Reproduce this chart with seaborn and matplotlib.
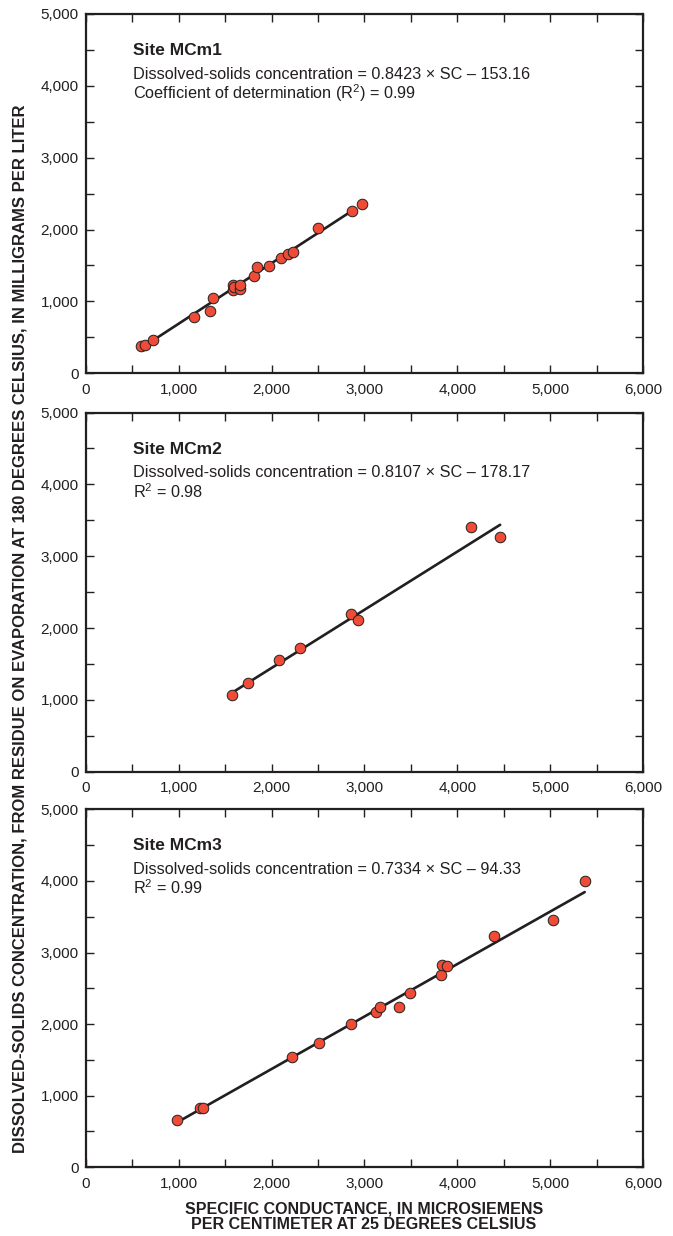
import matplotlib
matplotlib.use("Agg")
import matplotlib.pyplot as plt
import seaborn as sns
import pandas as pd
from matplotlib.ticker import MultipleLocator, FuncFormatter

# values
sites = ["MCm1", "MCm2", "MCm3"]

sc_mcm1 = [590, 640, 721, 1165, 1343, 1372, 1590, 1590, 1600, 1660, 1665,
           1816, 1844, 1970, 2098, 2181, 2234, 2499, 2867, 2971]
ds_mcm1 = [382, 400, 460, 783, 861, 1046, 1225, 1160, 1195, 1175, 1225,
           1347, 1481, 1491, 1602, 1653, 1681, 2028, 2259, 2352]

sc_mcm2 = [1579, 1744, 2080, 2306, 2860, 2935, 4148, 4455]
ds_mcm2 = [1072, 1240, 1556, 1719, 2200, 2109, 3412, 3273]

sc_mcm3 = [983, 1226, 1258, 2220, 2510, 2857, 3129, 3168, 3376, 3486,
           3819, 3829, 3891, 4395, 5031, 5375]
ds_mcm3 = [661, 832, 832, 1545, 1736, 2006, 2165, 2239, 2239, 2439,
           2682, 2830, 2816, 3230, 3454, 4003]

slopes = [0.8423, 0.8107, 0.7334]
intercepts = [-153.16, -178.17, -94.33]
fit_ranges = [(620, 2900), (1560, 4460), (1000, 5370)]
r2_lines = ["Coefficient of determination (R$^{2}$) = 0.99",
            "R$^{2}$ = 0.98",
            "R$^{2}$ = 0.99"]

sc_all = [sc_mcm1, sc_mcm2, sc_mcm3]
ds_all = [ds_mcm1, ds_mcm2, ds_mcm3]

sns.set_style("ticks")
plt.rcParams['font.family'] = ['Liberation Sans', 'DejaVu Sans']
plt.rcParams['mathtext.fontset'] = 'custom'
plt.rcParams['mathtext.rm'] = 'Liberation Sans'
plt.rcParams['mathtext.default'] = 'rm'

fig = plt.figure(figsize=(6.73, 12.36), dpi=100)

boxes = [[0.1273, 0.6980, 0.8285, 0.2907],
         [0.1273, 0.3757, 0.8285, 0.2905],
         [0.1273, 0.0556, 0.8285, 0.2896]]

ink = "#231f20"
comma = FuncFormatter(lambda v, p: f"{int(v):,}")

for i, site in enumerate(sites):
    ax = fig.add_axes(boxes[i])
    pts = pd.DataFrame({"sc": sc_all[i], "ds": ds_all[i]})
    x0, x1 = fit_ranges[i]
    fit = pd.DataFrame({"sc": [x0, x1],
                        "ds": [slopes[i] * x0 + intercepts[i],
                               slopes[i] * x1 + intercepts[i]]})
    sns.lineplot(data=fit, x="sc", y="ds", ax=ax, color=ink, lw=1.9, zorder=2)
    sns.scatterplot(data=pts, x="sc", y="ds", ax=ax, color="#ef4c37",
                    edgecolor=ink, linewidth=0.7, s=58, zorder=3)

    ax.set_xlim(0, 6000)
    ax.set_ylim(0, 5000)
    ax.xaxis.set_major_locator(MultipleLocator(1000))
    ax.xaxis.set_minor_locator(MultipleLocator(500))
    ax.yaxis.set_major_locator(MultipleLocator(1000))
    ax.yaxis.set_minor_locator(MultipleLocator(500))
    ax.xaxis.set_major_formatter(comma)
    ax.yaxis.set_major_formatter(comma)
    ax.tick_params(which="both", direction="in", top=True, right=True,
                   length=5.5, width=1.0, color=ink)
    ax.tick_params(axis="x", which="major", labelsize=11, pad=7, labelcolor=ink)
    ax.tick_params(axis="y", which="major", labelsize=11, pad=5, labelcolor=ink)
    for sp in ax.spines.values():
        sp.set_linewidth(1.6)
        sp.set_color(ink)
    ax.set_xlabel("")
    ax.set_ylabel("")

    ax.text(0.084, 0.886, f"Site {site}", transform=ax.transAxes,
            fontsize=12.5, fontweight="bold", color=ink, va="baseline")
    eq = (f"Dissolved-solids concentration = {slopes[i]:.4f} \u00d7 SC \u2013 "
          f"{abs(intercepts[i]):.2f}")
    ax.text(0.084, 0.820, eq, transform=ax.transAxes, fontsize=11.7,
            color=ink, va="baseline")
    ax.text(0.084, 0.763, r2_lines[i], transform=ax.transAxes, fontsize=11.7,
            color=ink, va="baseline")

fig.text(0.0297, 0.491,
         "DISSOLVED-SOLIDS CONCENTRATION, FROM RESIDUE ON EVAPORATION AT 180 "
         "DEGREES CELSIUS, IN MILLIGRAMS PER LITER",
         rotation=90, ha="center", va="center", fontsize=12,
         fontweight="bold", color=ink)
fig.text(0.5404, 0.0155,
         "SPECIFIC CONDUCTANCE, IN MICROSIEMENS\nPER CENTIMETER AT 25 DEGREES CELSIUS",
         ha="center", va="center", fontsize=11.5, fontweight="bold", color=ink,
         linespacing=1.05)

fig.savefig("out.png", dpi=100)
